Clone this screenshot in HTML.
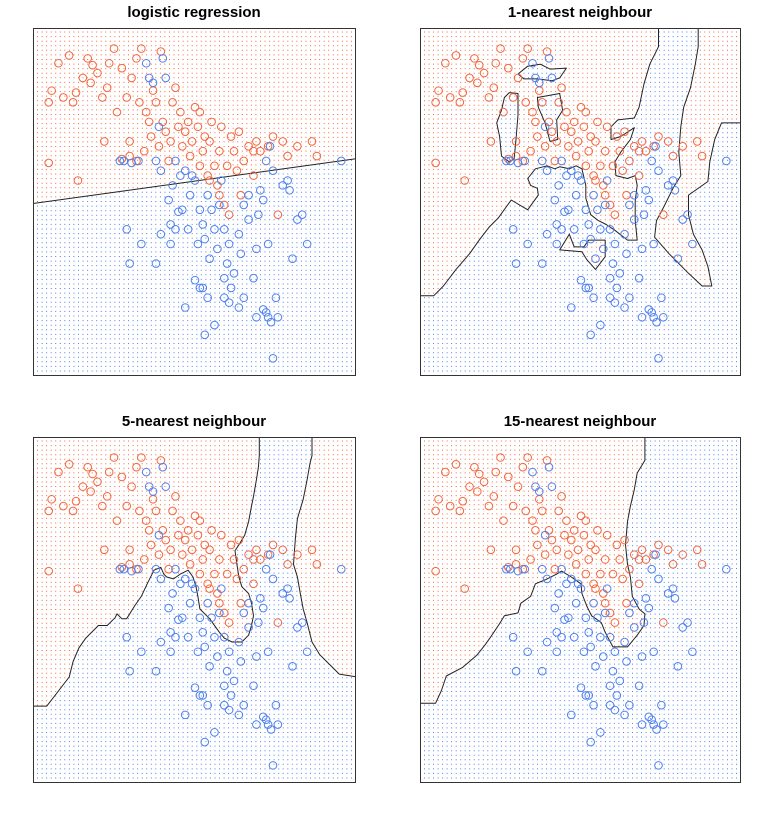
<!DOCTYPE html>
<html><head><meta charset="utf-8"><style>
html,body{margin:0;padding:0;background:#fff;}
svg{display:block;}
text{font-family:"Liberation Sans",sans-serif;font-weight:bold;font-size:15px;}
</style></head><body>
<svg id="chart" width="773" height="813" xmlns="http://www.w3.org/2000/svg"></svg>
<script>
// Observations (x: 0..322, y: 0..347 data units)
const redX=[12,15,22,27,33,37,40,12,42,47,52,55,57,62,67,69,72,74,79,82,87,92,95,97,102,105,107,110,112,115,117,119,122,125,127,129,132,135,137,139,142,145,147,149,152,155,157,159,162,165,167,170,172,175,177,179,182,185,187,189,192,195,197,199,202,205,207,209,212,217,222,225,229,237,242,247,252,257,267,282,287,222,167,177,187,102,95,87];
const redY=[275,287,315,280,323,275,285,213,195,300,320,295,313,305,280,235,290,315,330,265,310,280,235,300,320,275,330,225,265,255,240,287,275,230,327,255,245,215,235,275,290,250,265,230,245,255,220,235,270,250,210,225,240,200,235,255,210,190,225,250,170,210,160,240,225,205,245,180,215,230,200,235,225,230,240,160,235,220,230,235,220,225,265,195,180,215,220,217];
const blueX=[85,89,97,104,112,115,119,122,125,127,129,132,135,137,139,142,145,147,149,152,155,157,159,162,165,167,170,172,175,177,179,182,185,187,189,192,195,197,199,202,207,209,212,217,222,225,227,229,232,235,237,239,242,245,247,252,257,259,262,167,170,175,162,152,172,182,192,197,212,232,237,240,242,192,127,122,95,92,107,137,142,267,272,277,312,217,207,225,235];
const blueY=[215,215,213,215,315,300,295,215,250,205,320,300,175,150,190,145,163,200,165,205,145,180,200,195,130,165,150,135,180,115,165,145,125,170,195,145,110,130,85,100,140,120,170,155,95,125,160,185,175,215,130,230,205,75,55,190,195,185,115,85,85,75,93,65,37,47,75,70,75,63,55,50,13,95,140,110,110,145,130,130,215,155,160,130,215,180,65,55,60];
const titles=["logistic regression","1-nearest neighbour","5-nearest neighbour","15-nearest neighbour"];
const logitIntercept=172, logitSlope=0.14;
// Decision regions (vertices in data units), read from the fitted classifiers
const nn1RedMain=[[-10,360],[242,360],[242,332],[233,314],[227,294],[222,270],[217,259],[200,257],[193,250],[193,237],[203,240],[217,249],[213,237],[203,224],[197,214],[198,200],[210,197],[218,200],[220,190],[218,174],[218,154],[220,134],[210,134],[197,144],[188,150],[180,154],[172,160],[167,177],[167,190],[163,207],[157,210],[150,207],[140,209],[135,207],[127,210],[115,207],[107,197],[110,190],[117,187],[118,180],[107,165],[90,175],[77,157],[67,147],[57,134],[47,120],[33,104],[20,87],[10,77],[-10,77]];
const nn1BlueHoleA=[[88,285],[97,284],[97,262],[95,237],[93,217],[88,214],[80,220],[78,240],[75,254],[80,267],[83,280]];
const nn1BlueHoleB=[[97,304],[107,312],[120,314],[130,309],[147,310],[140,300],[132,297],[117,299],[103,299]];
const nn1BlueHoleC=[[117,280],[140,284],[143,267],[137,257],[138,237],[130,235],[125,254],[118,270]];
const nn1RedRight=[[283,360],[283,332],[280,314],[275,290],[268,270],[265,250],[263,224],[265,200],[257,187],[247,167],[240,154],[238,137],[253,120],[273,100],[287,87],[297,87],[293,107],[287,124],[278,140],[273,160],[273,180],[293,194],[295,214],[300,237],[307,254],[335,254],[335,360]];
const nn1RedBump=[[140,124],[150,140],[155,127],[165,127],[170,134],[187,134],[187,117],[177,104],[168,114],[163,122]];
const nn5RedMain=[[-10,360],[228,360],[228,332],[227,320],[225,307],[222,290],[220,280],[217,264],[213,250],[207,240],[203,234],[205,220],[207,207],[210,197],[217,190],[220,180],[222,167],[220,157],[217,147],[210,140],[200,140],[192,144],[187,150],[177,164],[167,174],[165,187],[163,197],[160,207],[155,214],[147,210],[140,205],[133,207],[130,210],[127,217],[120,214],[113,200],[107,187],[100,177],[92,164],[87,164],[82,169],[80,165],[72,157],[63,157],[50,144],[43,134],[37,120],[33,104],[20,87],[10,74],[-10,74]];
const nn5RedRight=[[282,360],[282,332],[280,324],[277,307],[273,287],[267,267],[265,247],[263,220],[267,207],[270,190],[273,174],[277,160],[282,140],[290,127],[297,120],[310,107],[335,103],[335,360]];
const nn15RedMain=[[-10,360],[228,360],[228,327],[220,314],[217,297],[213,280],[210,264],[208,240],[210,220],[213,207],[215,187],[222,174],[228,169],[227,157],[220,147],[210,135],[195,135],[187,150],[183,160],[173,167],[168,177],[163,190],[162,200],[152,207],[142,213],[137,210],[125,204],[115,200],[110,187],[100,180],[97,170],[83,167],[78,159],[68,144],[63,137],[55,127],[40,114],[23,105],[18,90],[12,77],[-10,77]];
const regionSets=[null,
  [[nn1RedMain,1],[nn1BlueHoleA,0],[nn1BlueHoleB,0],[nn1BlueHoleC,0],[nn1RedRight,1],[nn1RedBump,1]],
  [[nn5RedMain,1],[nn5RedRight,1]],
  [[nn15RedMain,1]]];
const XMAX=322, YMAX=347;

const NS="http://www.w3.org/2000/svg";
const svg=document.getElementById('chart');
const panels=[{x0:33,y0:28,w:322,h:347},{x0:420,y0:28,w:320,h:347},{x0:33,y0:437,w:322,h:345},{x0:420,y0:437,w:320,h:345}];
const RED="#f2673f", BLUE="#4f80ee";
function mk(tag,attrs){const e=document.createElementNS(NS,tag);for(const k in attrs)e.setAttribute(k,attrs[k]);return e;}
function inPoly(poly,x,y){let c=false;for(let i=0,j=poly.length-1;i<poly.length;j=i++){const xi=poly[i][0],yi=poly[i][1],xj=poly[j][0],yj=poly[j][1];if(((yi>y)!==(yj>y))&&(x<(xj-xi)*(y-yi)/(yj-yi)+xi))c=!c;}return c;}
function classify(pi,x,y){
  if(pi===0) return y>logitIntercept+logitSlope*x?1:0;
  let c=0;
  regionSets[pi].forEach(r=>{if(inPoly(r[0],x,y))c=r[1];});
  return c;
}
panels.forEach((p,pi)=>{
  const g=mk('g',{});
  
  
  svg.appendChild(g);
  const sx=v=>p.x0+4+v/XMAX*(p.w-8);
  const sy=v=>p.y0+p.h-4-v/YMAX*(p.h-8);
  const t=mk('text',{x:p.x0+p.w/2,y:p.y0-11,'text-anchor':'middle'});
  t.textContent=titles[pi];
  
  
  g.appendChild(t);
  const NX=70,NY=75;
  let rd="",bd="";
  for(let j=0;j<NY;j++){for(let i=0;i<NX;i++){
    const dx=i/(NX-1)*XMAX, dy=j/(NY-1)*YMAX;
    const c=classify(pi,dx,dy);
    const s="M"+sx(dx).toFixed(1)+" "+sy(dy).toFixed(1)+"h1";
    if(c)rd+=s;else bd+=s;
  }}
  const rp=mk('path',{d:rd,stroke:RED,'stroke-width':1,fill:'none'});
  
  
  g.appendChild(rp);
  const bp=mk('path',{d:bd,stroke:BLUE,'stroke-width':1,fill:'none'});
  
  
  g.appendChild(bp);
  let bdry="";
  if(pi===0){
    bdry="M"+p.x0+" "+sy(logitIntercept+logitSlope*(-4*XMAX/(p.w-8)))+"L"+(p.x0+p.w)+" "+sy(logitIntercept+logitSlope*XMAX);
  } else {
    regionSets[pi].forEach(r=>{
      bdry+="M"+r[0].map(v=>sx(v[0]).toFixed(1)+" "+sy(v[1]).toFixed(1)).join("L")+"Z";
    });
  }
  const clip=mk('clipPath',{id:'clip'+pi});clip.appendChild(mk('rect',{x:p.x0+1,y:p.y0+1,width:p.w-1,height:p.h-1}));g.appendChild(clip);
  const bl=mk('path',{d:bdry,stroke:'#222','stroke-width':1,fill:'none','clip-path':'url(#clip'+pi+')','stroke-linejoin':'round'});
  
  
  g.appendChild(bl);
  for(let i=0;i<redX.length;i++){
    const c=mk('circle',{cx:sx(redX[i]),cy:sy(redY[i]),r:3.8,fill:'none',stroke:RED,'stroke-width':1});
    
    
    g.appendChild(c);
  }
  for(let i=0;i<blueX.length;i++){
    const c=mk('circle',{cx:sx(blueX[i]),cy:sy(blueY[i]),r:3.8,fill:'none',stroke:BLUE,'stroke-width':1});
    
    
    g.appendChild(c);
  }
  const fr=mk('rect',{x:p.x0+0.5,y:p.y0+0.5,width:p.w,height:p.h,fill:'none',stroke:'#333','stroke-width':1});
  
  
  g.appendChild(fr);
});
</script>
</body></html>
